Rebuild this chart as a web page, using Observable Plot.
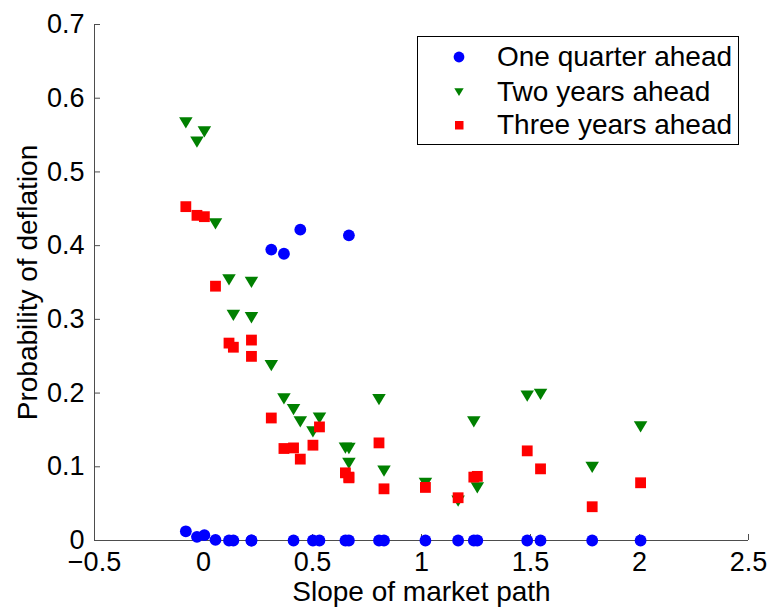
<!DOCTYPE html>
<html>
<head>
<meta charset="utf-8">
<script src="https://cdn.jsdelivr.net/npm/d3@7"></script>
<script src="https://cdn.jsdelivr.net/npm/@observablehq/plot@0.6"></script>
<style>
  body { margin: 0; background: #fff; }
  #chart { position: relative; width: 770px; height: 608px; font-family: "Liberation Sans", Arial, sans-serif; }
  #chart svg { display: block; }
  .legend { position: absolute; left: 417px; top: 36px; width: 322px; height: 109px;
            border: 1px solid #000; background: #fff; box-sizing: border-box; }
  .legend .row { position: absolute; left: 0; height: 30px; display: flex; align-items: center; }
  .legend .row svg { width: 20px; height: 20px; margin-left: 31px; margin-right: 28px; }
  .legend .row span { font-size: 28px; color: #000; white-space: nowrap; }
</style>
</head>
<body>
<div id="chart"></div>
<script>
// Slope of the market path for each episode, with the three deflation probabilities
const slope = [-0.081, -0.030, 0.004, 0.055, 0.117, 0.137, 0.220, 0.220, 0.311, 0.369,
  0.413, 0.444, 0.502, 0.532, 0.651, 0.667, 0.667, 0.805, 0.828, 1.018,
  1.168, 1.240, 1.256, 1.485, 1.546, 1.783, 2.005];
const oneQuarter = [0.0125, 0.0050, 0.0072, 0.0008, 0, 0, 0, 0, 0.3947, 0.3890,
  0, 0.4217, 0, 0, 0, 0, 0.4140, 0, 0, 0,
  0, 0, 0, 0, 0, 0, 0];
const twoYears = [0.5666, 0.5404, 0.5544, 0.4295, 0.3536, 0.3053, 0.3503, 0.3022, 0.2372, 0.1920,
  0.1776, 0.1608, 0.1473, 0.1660, 0.1252, 0.1248, 0.1045, 0.1912, 0.0940, 0.0774,
  0.0535, 0.1609, 0.0715, 0.1960, 0.1983, 0.0991, 0.1540];
const threeYears = [0.4529, 0.4411, 0.4393, 0.3450, 0.2678, 0.2622, 0.2719, 0.2498, 0.1662, 0.1248,
  0.1256, 0.1104, 0.1293, 0.1541, 0.0918, 0.0850, 0.0860, 0.1324, 0.0701, 0.0720,
  0.0580, 0.0860, 0.0870, 0.1216, 0.0972, 0.0458, 0.0783];

const seriesNames = ["One quarter ahead", "Two years ahead", "Three years ahead"];
const seriesColors = ["#0000ff", "#008000", "#ff0000"];

const xTicks = [-0.5, 0, 0.5, 1, 1.5, 2, 2.5];
const xTickLabels = ["\u22120.5", "0", "0.5", "1", "1.5", "2", "2.5"];
const yTicks = [0, 0.1, 0.2, 0.3, 0.4, 0.5, 0.6, 0.7];
const yTickLabels = ["0", "0.1", "0.2", "0.3", "0.4", "0.5", "0.6", "0.7"];

// Downward-pointing triangle, centred on its bounding box
const downTriangle = {
  draw(context, size) {
    const r = Math.sqrt(size / Math.PI);
    const w = r * 1.09, h = r * 0.91;
    context.moveTo(-w, -h);
    context.lineTo(w, -h);
    context.lineTo(0, h);
    context.closePath();
  }
};

const rows = slope.map((x, i) => ({x, q: oneQuarter[i], t2: twoYears[i], t3: threeYears[i]}));
const axisGray = "#4d4d4d";
const font = "'Liberation Sans', Arial, sans-serif";

const plot = Plot.plot({
  width: 770,
  height: 608,
  marginLeft: 94,
  marginRight: 22,
  marginTop: 24,
  marginBottom: 68,
  style: {fontFamily: font, fontSize: "27px", color: "#000", background: "#fff"},
  x: {domain: [-0.5, 2.5]},
  y: {domain: [0, 0.7]},
  marks: [
    Plot.ruleX([-0.5], {stroke: axisGray, strokeWidth: 1}),
    Plot.ruleY([0], {stroke: axisGray, strokeWidth: 1}),
    Plot.axisX({ticks: xTicks, tickFormat: d => xTickLabels[xTicks.indexOf(d)],
      tickSize: -6, tickPadding: 17, stroke: axisGray, fill: "#000", fontSize: 27, label: null}),
    Plot.axisY({ticks: yTicks, tickFormat: d => yTickLabels[yTicks.findIndex(t => Math.abs(t - d) < 1e-9)],
      tickSize: -6, tickPadding: 16, stroke: axisGray, fill: "#000", fontSize: 27, label: null}),
    Plot.text(["Slope of market path"], {frameAnchor: "bottom", textAnchor: "middle", dy: 60, fontSize: 28, fill: "#000"}),
    Plot.text(["Probability of deflation"], {frameAnchor: "left", textAnchor: "middle", rotate: -90, dx: -66, fontSize: 28, fill: "#000"}),
    Plot.dot(rows, {x: "x", y: "q", r: 5.9, fill: seriesColors[0], stroke: "none"}),
    Plot.dot(rows, {x: "x", y: "t2", r: 6.2, symbol: downTriangle, fill: seriesColors[1], stroke: "none"}),
    Plot.dot(rows, {x: "x", y: "t3", r: 6.1, symbol: "square", fill: seriesColors[2], stroke: "none"})
  ]
});

const chart = document.getElementById("chart");
chart.appendChild(plot);

// Legend box in the upper right of the axes
const legend = document.createElement("div");
legend.className = "legend";
const legendGlyphs = [
  '<circle cx="10" cy="10" r="5.4" fill="COLOR"/>',
  '<path d="M5.3,6.3 L14.7,6.3 L10,14 Z" fill="COLOR"/>',
  '<rect x="6" y="6" width="8.5" height="8.5" fill="COLOR"/>'
];
const rowTops = [5, 40, 73];
seriesNames.forEach((name, i) => {
  const row = document.createElement("div");
  row.className = "row";
  row.style.top = rowTops[i] + "px";
  row.innerHTML = `<svg viewBox="0 0 20 20">${legendGlyphs[i].replace("COLOR", seriesColors[i])}</svg><span>${name}</span>`;
  legend.appendChild(row);
});
chart.appendChild(legend);
</script>
</body>
</html>
